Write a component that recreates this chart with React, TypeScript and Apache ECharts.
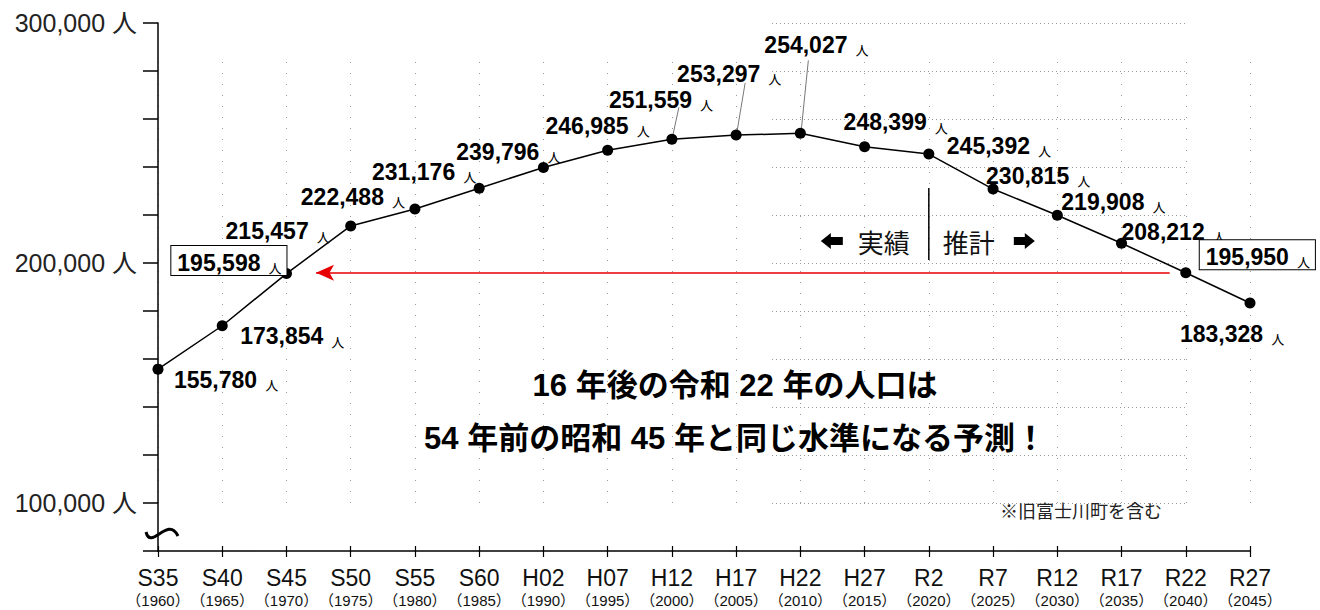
import React, { useEffect, useRef } from "react";
import * as echarts from "echarts";

// ---- data ----
const eraLabels = ["S35", "S40", "S45", "S50", "S55", "S60", "H02", "H07", "H12", "H17", "H22", "H27", "R2", "R7", "R12", "R17", "R22", "R27"];
const yearLabels = ["1960", "1965", "1970", "1975", "1980", "1985", "1990", "1995", "2000", "2005", "2010", "2015", "2020", "2025", "2030", "2035", "2040", "2045"];
const population = [155780, 173854, 195598, 215457, 222488, 231176, 239796, 246985, 251559, 253297, 254027, 248399, 245392, 230815, 219908, 208212, 195950, 183328];
const yLabeledTicks = [100000, 200000, 300000];
const boxedIndices = [2, 16];
const leaderIndices = [8, 9, 10];
const dividerIndex = 12; // 実績 / 推計 boundary
const arrowFromIndex = 16; // R22
const arrowToIndex = 2; // S45
const headline1 = "16 年後の令和 22 年の人口は";
const headline2 = "54 年前の昭和 45 年と同じ水準になる予測！";
const noteText = "※旧富士川町を含む";

// ---- styling (label placement relative to each point) ----
const labelPlacement = [
  { align: "left", dx: 16, dy: 9 },
  { align: "left", dx: 18, dy: 9 },
  { align: "right", dx: 0, dy: -13 },
  { align: "right", dx: -21, dy: 4 },
  { align: "right", dx: -10, dy: -14 },
  { align: "right", dx: -3, dy: -18 },
  { align: "right", dx: 17, dy: -17 },
  { align: "right", dx: 42, dy: -26 },
  { align: "left", dx: -63, dy: -41 },
  { align: "left", dx: -59, dy: -63 },
  { align: "left", dx: -36, dy: -90 },
  { align: "left", dx: -21, dy: -26 },
  { align: "left", dx: 18, dy: -10 },
  { align: "left", dx: -7, dy: -15 },
  { align: "left", dx: 4, dy: -15 },
  { align: "left", dx: 0, dy: -13 },
  { align: "left", dx: 14, dy: -18 },
  { align: "left", dx: -70, dy: 29 },
];
const leaderOffsets = [
  [7, -32],
  [9, -52],
  [8, -73],
];

const NUM_FONT = "'Liberation Sans', Arial, 'Noto Sans CJK JP', sans-serif";
const JP_FONT = "'Noto Sans CJK JP', 'Liberation Sans', sans-serif";

const fmt = (v: number) => v.toLocaleString("en-US");

export default function App() {
  const ref = useRef<HTMLDivElement>(null);

  useEffect(() => {
    const chart = echarts.init(ref.current!, null, { renderer: "svg" });

    const seriesData = population.map((v, i) => {
      const pl = labelPlacement[i];
      const label: any = {
        align: pl.align,
        verticalAlign: "middle",
        offset: [pl.dx, pl.dy],
      };
      if (boxedIndices.includes(i)) {
        label.borderColor = "#000";
        label.borderWidth = 1;
        label.backgroundColor = "#fff";
        label.padding = [2, 5, 1, 6];
      }
      return { value: [i, v], label };
    });

    const option: any = {
      animation: false,
      backgroundColor: "#fff",
      textStyle: { fontFamily: NUM_FONT },
      grid: [
        { left: 158, right: 70, top: 23, bottom: 59 },
        { left: 158, right: 70, top: 62, bottom: 105 },
        { left: 772, right: 135, top: 23, bottom: 107 },
      ],
      xAxis: [
        {
          gridIndex: 0,
          type: "value",
          min: 0,
          max: 17,
          interval: 1,
          axisLine: { show: true, onZero: false, lineStyle: { color: "#000", width: 1.5 } },
          axisTick: { show: true, length: 6, lineStyle: { color: "#000", width: 1.2 } },
          splitLine: { show: false },
          axisLabel: {
            margin: 14,
            formatter: (v: number) => `{a|${eraLabels[v]}}\n{b|（${yearLabels[v]}）}`,
            rich: {
              a: { fontSize: 23, fontFamily: NUM_FONT, color: "#111", lineHeight: 26 },
              b: { fontSize: 15, fontFamily: NUM_FONT, color: "#111", lineHeight: 18 },
            },
          },
        },
        {
          gridIndex: 0,
          type: "value",
          min: 0,
          max: 17,
          interval: 1,
          position: "bottom",
          axisLine: { show: false },
          axisTick: { show: true, inside: true, length: 5, lineStyle: { color: "#000", width: 1.2 } },
          axisLabel: { show: false },
          splitLine: { show: false },
        },
        {
          gridIndex: 1,
          type: "value",
          min: 0,
          max: 17,
          interval: 1,
          axisLine: { show: false },
          axisTick: { show: false },
          axisLabel: { show: false },
          splitLine: { show: true, lineStyle: { color: "#9a9a9a", width: 1, type: [1, 10] } },
        },
        { gridIndex: 2, type: "value", min: 0, max: 1, show: false },
      ],
      yAxis: [
        {
          gridIndex: 0,
          type: "value",
          min: 80000,
          max: 300000,
          interval: 20000,
          axisLine: { show: true, onZero: false, lineStyle: { color: "#000", width: 1.5 } },
          axisTick: { show: true, length: 15, lineStyle: { color: "#000", width: 1.5 } },
          splitLine: { show: false },
          axisLabel: {
            margin: 21,
            fontSize: 25,
            color: "#222",
            fontFamily: NUM_FONT,
            formatter: (v: number) => (yLabeledTicks.includes(v) ? `${fmt(v)} 人` : ""),
          },
        },
        { gridIndex: 1, type: "value", min: 0, max: 1, show: false },
        {
          gridIndex: 2,
          type: "value",
          min: 100000,
          max: 300000,
          interval: 20000,
          axisLine: { show: false },
          axisTick: { show: false },
          axisLabel: { show: false },
          splitLine: { show: true, lineStyle: { color: "#9a9a9a", width: 1, type: [1, 3] } },
        },
      ],
      series: [
        {
          type: "line",
          xAxisIndex: 0,
          yAxisIndex: 0,
          z: 5,
          data: seriesData,
          symbol: "circle",
          symbolSize: 11,
          itemStyle: { color: "#000" },
          lineStyle: { color: "#000", width: 1.5 },
          label: {
            show: true,
            position: "inside",
            formatter: (p: any) => `{n|${fmt(p.value[1])}}{u|人}`,
            rich: {
              n: { fontSize: 23, fontWeight: "bold", fontFamily: NUM_FONT, color: "#000", lineHeight: 26, verticalAlign: "bottom" },
              u: { fontSize: 13, fontFamily: JP_FONT, color: "#000", padding: [0, 0, 0, 8], lineHeight: 18, verticalAlign: "bottom" },
            },
          },
          markLine: {
            silent: true,
            symbol: ["arrow", "none"],
            symbolSize: [12, 18],
            lineStyle: { color: "#e60000", width: 1.5, type: "solid" },
            label: { show: false },
            data: [
              [
                { coord: [arrowToIndex + 0.46, population[arrowFromIndex]] },
                { coord: [arrowFromIndex - 0.25, population[arrowFromIndex]] },
              ],
            ],
          },
        },
      ],
    };

    chart.setOption(option);

    const toPx = (i: number, v: number) => chart.convertToPixel({ gridIndex: 0 }, [i, v]) as number[];
    const graphics: any[] = [];

    // leader lines
    leaderIndices.forEach((idx, k) => {
      const p = toPx(idx, population[idx]);
      const [dx, dy] = leaderOffsets[k];
      graphics.push({
        type: "line",
        z: 3,
        shape: { x1: p[0] + dx, y1: p[1] + dy, x2: p[0] + 1, y2: p[1] - 4 },
        style: { stroke: "#777", lineWidth: 1 },
      });
    });

    // divider between 実績 and 推計
    const d = toPx(dividerIndex, population[dividerIndex]);
    const dx0 = d[0];
    graphics.push({
      type: "line",
      shape: { x1: dx0, y1: 188, x2: dx0, y2: 260 },
      style: { stroke: "#000", lineWidth: 1.5 },
    });
    const cy = 241;
    graphics.push({
      type: "polygon",
      shape: {
        points: [
          [dx0 - 108, cy], [dx0 - 98, cy - 8], [dx0 - 98, cy - 4], [dx0 - 86, cy - 4],
          [dx0 - 86, cy + 4], [dx0 - 98, cy + 4], [dx0 - 98, cy + 8],
        ],
      },
      style: { fill: "#000" },
    });
    graphics.push({
      type: "polygon",
      shape: {
        points: [
          [dx0 + 106, cy], [dx0 + 96, cy - 8], [dx0 + 96, cy - 4], [dx0 + 85, cy - 4],
          [dx0 + 85, cy + 4], [dx0 + 96, cy + 4], [dx0 + 96, cy + 8],
        ],
      },
      style: { fill: "#000" },
    });
    graphics.push({
      type: "text",
      x: dx0 - 71,
      y: cy,
      style: { text: "実績", fontSize: 26, fontFamily: JP_FONT, fill: "#111", textAlign: "left", textVerticalAlign: "middle" },
    });
    graphics.push({
      type: "text",
      x: dx0 + 14,
      y: cy,
      style: { text: "推計", fontSize: 26, fontFamily: JP_FONT, fill: "#111", textAlign: "left", textVerticalAlign: "middle" },
    });

    // axis break mark
    const o = toPx(0, 80000);
    graphics.push({
      type: "bezierCurve",
      z: 10,
      shape: {
        x1: o[0] - 12, y1: o[1] - 19,
        cpx1: o[0] - 7, cpy1: o[1],
        cpx2: o[0] + 10, cpy2: o[1] - 36,
        x2: o[0] + 20, y2: o[1] - 15,
      },
      style: { stroke: "#000", lineWidth: 3, fill: "none" },
    });

    // headline
    graphics.push({
      type: "text",
      x: 735,
      y: 385,
      style: { text: headline1, fontSize: 31, fontWeight: "bold", fontFamily: NUM_FONT, fill: "#000", textAlign: "center", textVerticalAlign: "middle" },
    });
    graphics.push({
      type: "text",
      x: 735,
      y: 438,
      style: { text: headline2, fontSize: 31, fontWeight: "bold", fontFamily: NUM_FONT, fill: "#000", textAlign: "center", textVerticalAlign: "middle" },
    });
    // note
    graphics.push({
      type: "text",
      x: 1000,
      y: 510,
      style: { text: noteText, fontSize: 18, fontFamily: JP_FONT, fill: "#222", textAlign: "left", textVerticalAlign: "middle" },
    });

    chart.setOption({ graphic: graphics });

    return () => chart.dispose();
  }, []);

  return (
    <div
      ref={ref}
      style={{ position: "fixed", left: 0, top: 0, width: 1320, height: 610, background: "#fff" }}
    />
  );
}
